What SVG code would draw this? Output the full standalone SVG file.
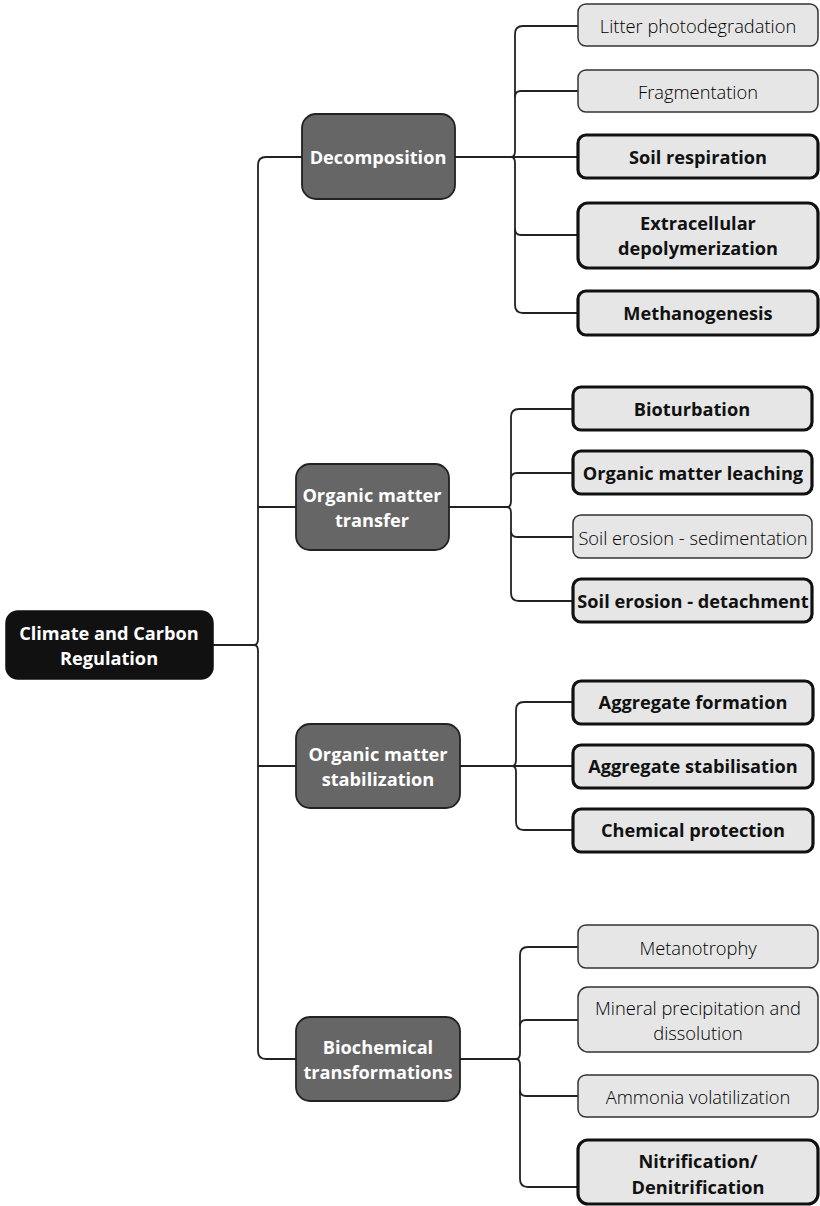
<svg xmlns="http://www.w3.org/2000/svg" width="820" height="1206" viewBox="0 0 820 1206">
<style>
.c{fill:none;stroke:#222;stroke-width:1.8}
.root{fill:#111;stroke:#111;stroke-width:1.5}
.br{fill:#666;stroke:#222;stroke-width:1.8}
.lf{fill:#e6e6e6;stroke:#333;stroke-width:1.5}
.lb{fill:#e6e6e6;stroke:#111;stroke-width:3.2}
text{font-family:"Open Sans","DejaVu Sans",sans-serif;text-anchor:middle;dominant-baseline:central}
.tw{fill:#fff;font-weight:bold;font-size:18.2px}
.tn{fill:#000;font-size:18.3px;font-weight:300}
.tb{fill:#111;font-weight:bold;font-size:18.2px}
</style>
<rect width="820" height="1206" fill="#fff"/>
<g id="connectors">
<path class="c" d="M213,645 H254"/>
<path class="c" d="M302,157 H266 Q258,157 258,165 V639 Q258,645 254,645 Q258,645 258,651 V1051 Q258,1059 266,1059 H296"/>
<path class="c" d="M258,507 H296"/>
<path class="c" d="M258,766 H296"/>
<path class="c" d="M455,157 H511"/>
<path class="c" d="M578,26 H523 Q515,26 515,34 V151 Q515,157 511,157 Q515,157 515,163 V305 Q515,313 523,313 H578"/>
<path class="c" d="M515,97 Q515,91 521,91 H578"/>
<path class="c" d="M511,157 H578"/>
<path class="c" d="M515,229 Q515,235 521,235 H578"/>
<path class="c" d="M449,507 H507"/>
<path class="c" d="M573,409 H519 Q511,409 511,417 V501 Q511,507 507,507 Q511,507 511,513 V593 Q511,601 519,601 H573"/>
<path class="c" d="M511,479 Q511,473 517,473 H573"/>
<path class="c" d="M511,531 Q511,537 517,537 H573"/>
<path class="c" d="M460,766 H512"/>
<path class="c" d="M573,702 H524 Q516,702 516,710 V760 Q516,766 512,766 Q516,766 516,772 V822 Q516,830 524,830 H573"/>
<path class="c" d="M512,766 H573"/>
<path class="c" d="M460,1059 H516"/>
<path class="c" d="M578,947 H528 Q520,947 520,955 V1053 Q520,1059 516,1059 Q520,1059 520,1065 V1179 Q520,1187 528,1187 H578"/>
<path class="c" d="M520,1026 Q520,1020 526,1020 H578"/>
<path class="c" d="M520,1090 Q520,1096 526,1096 H578"/>
</g>
<g id="root"><rect class="root" x="6" y="611" width="207" height="68" rx="12"/><text class="tw" x="109" y="633">Climate and Carbon</text><text class="tw" x="109" y="658">Regulation</text></g>
<g id="decomposition"><rect class="br" x="302" y="114" width="153" height="85" rx="14"/><text class="tw" x="378" y="157">Decomposition</text></g>
<g id="transfer"><rect class="br" x="296" y="464" width="153" height="86" rx="14"/><text class="tw" x="372" y="495">Organic matter</text><text class="tw" x="372" y="520">transfer</text></g>
<g id="stabilization"><rect class="br" x="296" y="724" width="164" height="84" rx="14"/><text class="tw" x="378" y="754">Organic matter</text><text class="tw" x="378" y="779">stabilization</text></g>
<g id="biochemical"><rect class="br" x="296" y="1017" width="164" height="84" rx="14"/><text class="tw" x="378" y="1047">Biochemical</text><text class="tw" x="378" y="1072">transformations</text></g>
<g id="leaf-litter"><rect class="lf" x="578" y="4" width="240" height="42" rx="8"/><text class="tn" x="698" y="25">Litter photodegradation</text></g>
<g id="leaf-fragmentation"><rect class="lf" x="578" y="70" width="240" height="42" rx="8"/><text class="tn" x="698" y="91">Fragmentation</text></g>
<g id="leaf-respiration"><rect class="lb" x="578" y="135" width="240" height="43" rx="8"/><text class="tb" x="698" y="157">Soil respiration</text></g>
<g id="leaf-extracellular"><rect class="lb" x="578" y="203" width="240" height="65" rx="10"/><text class="tb" x="698" y="223">Extracellular</text><text class="tb" x="698" y="248">depolymerization</text></g>
<g id="leaf-methanogenesis"><rect class="lb" x="578" y="291" width="240" height="44" rx="8"/><text class="tb" x="698" y="313">Methanogenesis</text></g>
<g id="leaf-bioturbation"><rect class="lb" x="573" y="387" width="239" height="43" rx="8"/><text class="tb" x="692" y="409">Bioturbation</text></g>
<g id="leaf-leaching"><rect class="lb" x="573" y="451" width="239" height="43" rx="8"/><text class="tb" x="693" y="473">Organic matter leaching</text></g>
<g id="leaf-sedimentation"><rect class="lf" x="573" y="515" width="239" height="43" rx="8"/><text class="tn" x="693" y="537">Soil erosion - sedimentation</text></g>
<g id="leaf-detachment"><rect class="lb" x="573" y="579" width="239" height="43" rx="8"/><text class="tb" x="693" y="601">Soil erosion - detachment</text></g>
<g id="leaf-aggformation"><rect class="lb" x="573" y="681" width="240" height="43" rx="8"/><text class="tb" x="693" y="702">Aggregate formation</text></g>
<g id="leaf-aggstabilisation"><rect class="lb" x="573" y="745" width="240" height="43" rx="8"/><text class="tb" x="693" y="766">Aggregate stabilisation</text></g>
<g id="leaf-chemical"><rect class="lb" x="573" y="809" width="240" height="43" rx="8"/><text class="tb" x="693" y="830">Chemical protection</text></g>
<g id="leaf-metanotrophy"><rect class="lf" x="578" y="925" width="240" height="43" rx="8"/><text class="tn" x="698" y="947">Metanotrophy</text></g>
<g id="leaf-mineral"><rect class="lf" x="578" y="987" width="240" height="65" rx="10"/><text class="tn" x="698" y="1007">Mineral precipitation and</text><text class="tn" x="698" y="1032">dissolution</text></g>
<g id="leaf-ammonia"><rect class="lf" x="578" y="1075" width="240" height="42" rx="8"/><text class="tn" x="698" y="1096">Ammonia volatilization</text></g>
<g id="leaf-nitrification"><rect class="lb" x="578" y="1140" width="240" height="64" rx="10"/><text class="tb" x="698" y="1161">Nitrification/</text><text class="tb" x="698" y="1187">Denitrification</text></g>
</svg>
